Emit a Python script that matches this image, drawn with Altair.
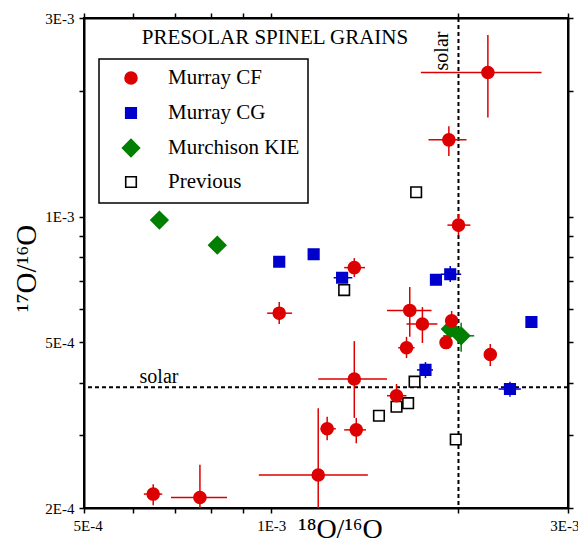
import altair as alt
import pandas as pd

FONT = "Liberation Serif"

groups = ["Murray CF", "Murray CG", "Murchison KIE", "Previous"]

# Murray CF (red circles)
cf_x   = [2.23e-3, 1.93e-3, 2.00e-3, 1.36e-3, 1.03e-3, 1.67e-3, 1.75e-3, 1.95e-3, 1.91e-3,
          1.65e-3, 2.25e-3, 1.36e-3, 1.59e-3, 1.23e-3, 1.37e-3, 1.19e-3, 6.46e-4, 7.68e-4]
cf_y   = [2.22e-3, 1.53e-3, 9.55e-4, 7.55e-4, 5.87e-4, 5.96e-4, 5.53e-4, 5.63e-4, 4.99e-4,
          4.85e-4, 4.67e-4, 4.08e-4, 3.72e-4, 3.10e-4, 3.08e-4, 2.40e-4, 2.16e-4, 2.12e-4]
cf_xlo = [1.74e-3, 1.79e-3, 1.92e-3, 1.31e-3, 0.985e-3, 1.535e-3, 1.65e-3, 1.91e-3, 1.91e-3,
          1.60e-3, 2.21e-3, 1.19e-3, 1.535e-3, 1.20e-3, 1.31e-3, 0.955e-3, 6.24e-4, 6.90e-4]
cf_xhi = [2.72e-3, 2.06e-3, 2.09e-3, 1.415e-3, 1.08e-3, 1.81e-3, 1.85e-3, 1.99e-3, 1.91e-3,
          1.70e-3, 2.29e-3, 1.535e-3, 1.65e-3, 1.27e-3, 1.42e-3, 1.43e-3, 6.68e-4, 8.49e-4]
cf_ylo = [1.73e-3, 1.40e-3, 9.04e-4, 7.17e-4, 5.53e-4, 5.15e-4, 4.98e-4, 5.35e-4, 4.99e-4,
          4.58e-4, 4.38e-4, 3.29e-4, 3.47e-4, 2.91e-4, 2.86e-4, 2.00e-4, 2.03e-4, 2.00e-4]
cf_yhi = [2.73e-3, 1.65e-3, 1.015e-3, 7.96e-4, 6.24e-4, 6.78e-4, 6.07e-4, 5.94e-4, 4.99e-4,
          5.15e-4, 4.95e-4, 5.03e-4, 3.97e-4, 3.31e-4, 3.29e-4, 3.47e-4, 2.28e-4, 2.54e-4]

# Murray CG (blue squares)
cg_x   = [1.03e-3, 1.17e-3, 1.30e-3, 1.84e-3, 1.94e-3, 2.62e-3, 1.77e-3, 2.42e-3]
cg_y   = [7.80e-4, 8.13e-4, 7.14e-4, 7.06e-4, 7.28e-4, 5.59e-4, 4.29e-4, 3.86e-4]
cg_xlo = [1.03e-3, 1.17e-3, 1.26e-3, 1.80e-3, 1.875e-3, 2.62e-3, 1.715e-3, 2.32e-3]
cg_xhi = [1.03e-3, 1.17e-3, 1.35e-3, 1.88e-3, 2.02e-3, 2.62e-3, 1.82e-3, 2.52e-3]
cg_ylo = [7.80e-4, 8.13e-4, 6.95e-4, 6.90e-4, 6.97e-4, 5.59e-4, 4.10e-4, 3.70e-4]
cg_yhi = [7.80e-4, 8.13e-4, 7.33e-4, 7.22e-4, 7.62e-4, 5.59e-4, 4.48e-4, 4.02e-4]

# Murchison KIE (green diamonds)
kie_x   = [6.61e-4, 8.19e-4, 1.94e-3, 2.02e-3]
kie_y   = [9.82e-4, 8.55e-4, 5.38e-4, 5.18e-4]
kie_xlo = [6.61e-4, 8.19e-4, 1.94e-3, 1.89e-3]
kie_xhi = [6.61e-4, 8.19e-4, 1.94e-3, 2.12e-3]
kie_ylo = [9.82e-4, 8.55e-4, 5.38e-4, 4.74e-4]
kie_yhi = [9.82e-4, 8.55e-4, 5.38e-4, 5.57e-4]

# Previous (open squares)
prev_x = [1.71e-3, 1.31e-3, 1.70e-3, 1.66e-3, 1.59e-3, 1.49e-3, 1.98e-3]
prev_y = [1.145e-3, 6.67e-4, 4.02e-4, 3.57e-4, 3.50e-4, 3.33e-4, 2.92e-4]

solar_x = [2.0e-3]
solar_y = [3.9e-4]

x_ticks = [5e-4, 6e-4, 7e-4, 8e-4, 9e-4, 1e-3, 2e-3, 3e-3]
y_ticks = [2e-4, 3e-4, 4e-4, 5e-4, 6e-4, 7e-4, 8e-4, 9e-4, 1e-3, 2e-3, 3e-3]

ann_text = ["PRESOLAR SPINEL GRAINS", "solar"]
ann_x = [1.014e-3, 6.6e-4]
ann_y = [2.6e-3, 4.0e-4]
ann_size = [21, 20]
vsolar_x = [1.924e-3]
vsolar_y = [2.5e-3]

# ---------- styles ----------
red, blue, green = "#dd0000", "#0000cc", "#007f00"
fills = [red, blue, green, "white"]
strokes = [red, blue, green, "black"]
sq = "M-0.88,-0.88H0.88V0.88H-0.88Z"
dia = "M-1.42,0L0,-1.42L1.42,0L0,1.42Z"
shapes = ["circle", sq, dia, sq]

# ---------- build tables ----------
def frame(g, x, y, xlo=None, xhi=None, ylo=None, yhi=None):
    d = pd.DataFrame({"group": g, "x": x, "y": y})
    d["xlo"] = xlo if xlo is not None else x
    d["xhi"] = xhi if xhi is not None else x
    d["ylo"] = ylo if ylo is not None else y
    d["yhi"] = yhi if yhi is not None else y
    return d

df = pd.concat([
    frame("Previous", prev_x, prev_y),
    frame("Murchison KIE", kie_x, kie_y, kie_xlo, kie_xhi, kie_ylo, kie_yhi),
    frame("Murray CG", cg_x, cg_y, cg_xlo, cg_xhi, cg_ylo, cg_yhi),
    frame("Murray CF", cf_x, cf_y, cf_xlo, cf_xhi, cf_ylo, cf_yhi),
], ignore_index=True)

herr = df[df["xlo"] != df["xhi"]]
verr = df[df["ylo"] != df["yhi"]]

xs = alt.Scale(type="log", domain=[5e-4, 3e-3], nice=False)
ys = alt.Scale(type="log", domain=[2e-4, 3e-3], nice=False)

fill_scale = alt.Scale(domain=groups, range=fills)
stroke_scale = alt.Scale(domain=groups, range=strokes)
err_scale = alt.Scale(domain=groups, range=strokes)
shape_scale = alt.Scale(domain=groups, range=shapes)

xlab = "datum.value == 0.0005 ? '5E-4' : datum.value == 0.001 ? '1E-3' : datum.value == 0.003 ? '3E-3' : ''"
ylab = ("datum.value == 0.0002 ? '2E-4' : datum.value == 0.0005 ? '5E-4' : "
        "datum.value == 0.001 ? '1E-3' : datum.value == 0.003 ? '3E-3' : ''")

axis_common = dict(grid=False, domainColor="black", domainWidth=2, tickColor="black",
                   tickWidth=1.5, tickSize=5, labelFont=FONT, labelFontSize=15,
                   labelColor="black", labelOverlap=False,
                   titleFont=FONT, titleFontWeight="normal", titleColor="black")

bottom_axis = alt.Axis(orient="bottom", values=x_ticks, labelExpr=xlab, labelPadding=5,
                       labelFlush=True, labelFlushOffset=11,
                       title="¹⁸O/¹⁶O", titleFontSize=28, titleX=256, titleY=29,
                       titleBaseline="alphabetic", titleAlign="center", **axis_common)
left_axis = alt.Axis(orient="left", values=y_ticks, labelExpr=ylab, labelPadding=5,
                     labelFlush=False,
                     title="¹⁷O/¹⁶O", titleFontSize=29, titleAngle=270, titleX=-49,
                     titleY=250, titleBaseline="alphabetic", titleAlign="center",
                     **axis_common)
top_axis = alt.Axis(orient="top", values=x_ticks, labels=False, title=None, **axis_common)
right_axis = alt.Axis(orient="right", values=y_ticks, labels=False, title=None, **axis_common)

solar_h = alt.Chart(pd.DataFrame({"v": solar_y})).mark_rule(
    color="black", strokeWidth=2, strokeDash=[4, 3]
).encode(y=alt.Y("v:Q", scale=ys, axis=None))

solar_v = alt.Chart(pd.DataFrame({"v": solar_x})).mark_rule(
    color="black", strokeWidth=2, strokeDash=[4, 3]
).encode(x=alt.X("v:Q", scale=xs, axis=None))

h_rules = alt.Chart(herr).mark_rule(strokeWidth=1.5, clip=True).encode(
    x=alt.X("xlo:Q", scale=xs, axis=top_axis),
    x2="xhi:Q",
    y=alt.Y("y:Q", scale=ys, axis=right_axis),
    color=alt.Color("group:N", scale=err_scale, legend=None),
)

v_rules = alt.Chart(verr).mark_rule(strokeWidth=1.5, clip=True).encode(
    x=alt.X("x:Q", scale=xs, axis=None),
    y=alt.Y("ylo:Q", scale=ys, axis=None),
    y2="yhi:Q",
    color=alt.Color("group:N", scale=err_scale, legend=None),
)

points = alt.Chart(df).mark_point(filled=True, opacity=1, size=144, strokeWidth=1.6).encode(
    x=alt.X("x:Q", scale=xs, axis=bottom_axis),
    y=alt.Y("y:Q", scale=ys, axis=left_axis),
    fill=alt.Fill("group:N", scale=fill_scale, legend=None),
    stroke=alt.Stroke("group:N", scale=stroke_scale, legend=None),
    shape=alt.Shape("group:N", scale=shape_scale, legend=None),
)

ann = alt.Chart(pd.DataFrame({"t": ann_text, "x": ann_x, "y": ann_y, "s": ann_size})).mark_text(
    font=FONT, color="black", align="center", baseline="alphabetic"
).encode(
    x=alt.X("x:Q", scale=xs, axis=None),
    y=alt.Y("y:Q", scale=ys, axis=None),
    text="t:N",
    size=alt.Size("s:Q", scale=None, legend=None),
)

vann = alt.Chart(pd.DataFrame({"t": ["solar"], "x": vsolar_x, "y": vsolar_y})).mark_text(
    font=FONT, color="black", align="center", baseline="alphabetic", angle=270, fontSize=20
).encode(
    x=alt.X("x:Q", scale=xs, axis=None),
    y=alt.Y("y:Q", scale=ys, axis=None),
    text="t:N",
)

# ---------- legend (drawn as a key box, layout in pixels of the plot area) ----------
LEG_BOX = (15, 224, 41, 185)
LEG_SYM_X, LEG_TXT_X = 47, 84
LEG_ROW_Y = [60, 95, 130, 164]

legend_layers = [
    alt.Chart(pd.DataFrame({"a": [0]})).mark_rect(
        fill="white", stroke="black", strokeWidth=1.5
    ).encode(x=alt.value(LEG_BOX[0]), x2=alt.value(LEG_BOX[1]),
             y=alt.value(LEG_BOX[2]), y2=alt.value(LEG_BOX[3]))
]
for g, f, s, sh, ry in zip(groups, fills, strokes, shapes, LEG_ROW_Y):
    legend_layers.append(
        alt.Chart(pd.DataFrame({"t": [g]})).mark_point(
            filled=True, opacity=1, size=144, strokeWidth=1.6, fill=f, stroke=s, shape=sh
        ).encode(x=alt.value(LEG_SYM_X), y=alt.value(ry))
    )
    legend_layers.append(
        alt.Chart(pd.DataFrame({"t": [g]})).mark_text(
            font=FONT, fontSize=21, color="black", align="left", baseline="middle"
        ).encode(x=alt.value(LEG_TXT_X), y=alt.value(ry), text="t:N")
    )

chart = alt.layer(solar_h, solar_v, h_rules, v_rules, points, ann, vann,
                  *legend_layers).resolve_axis(
    x="independent", y="independent"
).properties(
    width=484, height=490,
    autosize=alt.AutoSizeParams(type="none"),
    padding={"left": 76, "top": 10, "right": 10, "bottom": 37},
).configure_view(stroke="black", strokeWidth=2)

chart.save("out.html", embed_options={"renderer": "svg", "actions": False})
